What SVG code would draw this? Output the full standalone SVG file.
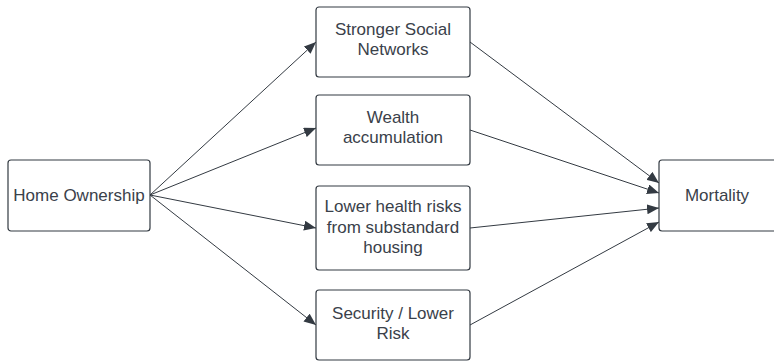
<svg xmlns="http://www.w3.org/2000/svg" width="774" height="361" viewBox="0 0 774 361">
<style>
.box{fill:#fff;stroke:#333a42;stroke-width:1.2}
.t{font-family:"Liberation Sans",Arial,sans-serif;font-size:17px;fill:#3a414a;text-anchor:middle}
.c{stroke:#333a42;stroke-width:1;fill:none;marker-end:url(#ah)}
</style>
<defs>
<marker id="ah" viewBox="0 0 12 10" refX="12" refY="5" markerWidth="12" markerHeight="10" markerUnits="userSpaceOnUse" orient="auto">
<path d="M0,0 L12,5 L0,10 Z" fill="#333a42"/>
</marker>
</defs>
<rect width="774" height="361" fill="#fff"/>
<g id="connectors">
<line class="c" x1="150" y1="195" x2="316" y2="42"/>
<line class="c" x1="150" y1="195" x2="316" y2="128"/>
<line class="c" x1="150" y1="195" x2="316" y2="228"/>
<line class="c" x1="150" y1="195" x2="316" y2="325"/>
<line class="c" x1="470" y1="42" x2="659" y2="183"/>
<line class="c" x1="470" y1="130" x2="659" y2="193"/>
<line class="c" x1="470" y1="228" x2="659" y2="208"/>
<line class="c" x1="470" y1="325" x2="659" y2="222"/>
</g>
<g id="home">
<rect class="box" x="8" y="160" width="142" height="71" rx="3"/>
<text class="t" x="79" y="201">Home Ownership</text>
</g>
<g id="social">
<rect class="box" x="316" y="7" width="154" height="70" rx="3"/>
<text class="t" x="393" y="35">Stronger Social</text>
<text class="t" x="393" y="55">Networks</text>
</g>
<g id="wealth">
<rect class="box" x="316" y="95" width="154" height="70" rx="3"/>
<text class="t" x="393" y="123">Wealth</text>
<text class="t" x="393" y="143">accumulation</text>
</g>
<g id="health">
<rect class="box" x="316" y="186" width="154" height="84" rx="3"/>
<text class="t" x="393" y="212">Lower health risks</text>
<text class="t" x="393" y="233">from substandard</text>
<text class="t" x="393" y="253">housing</text>
</g>
<g id="security">
<rect class="box" x="316" y="290" width="154" height="70" rx="3"/>
<text class="t" x="393" y="319">Security / Lower</text>
<text class="t" x="393" y="339">Risk</text>
</g>
<g id="mortality">
<rect class="box" x="659" y="160" width="130" height="71" rx="3"/>
<text class="t" x="717" y="201">Mortality</text>
</g>
</svg>
